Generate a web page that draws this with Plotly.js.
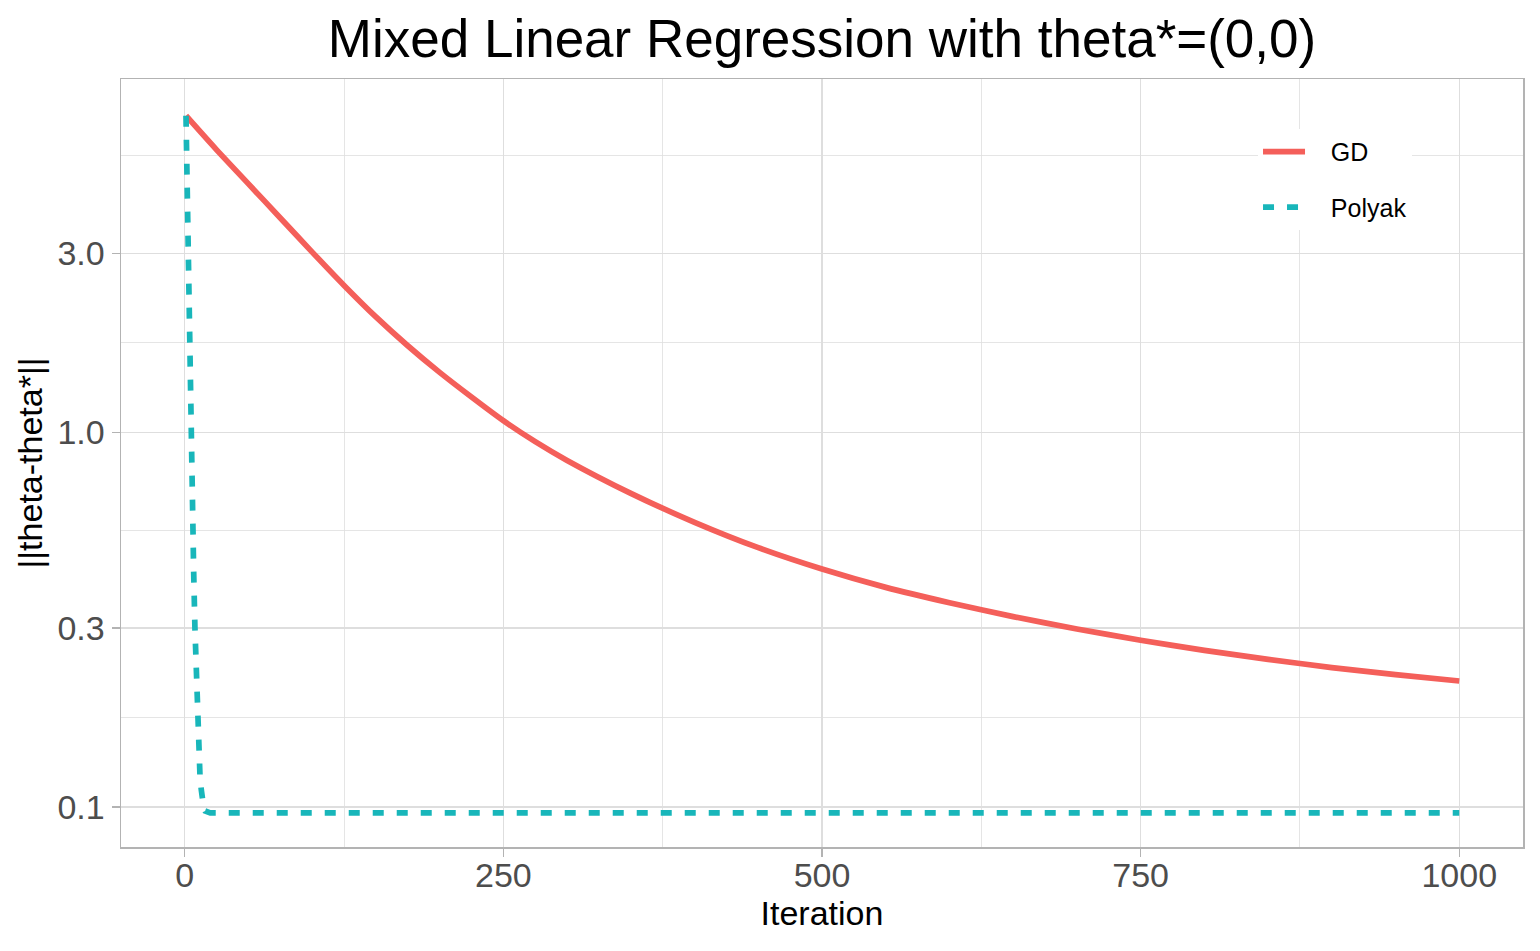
<!DOCTYPE html>
<html>
<head>
<meta charset="utf-8">
<script src="https://cdn.plot.ly/plotly-3.0.1.min.js"></script>
<style>
  html, body { margin: 0; padding: 0; background: #fff; }
  #plot { width: 1540px; height: 951px; }
</style>
</head>
<body>
<div id="plot"></div>
<script>
// values
const gdIter = [1, 25, 50, 75, 100, 125, 150, 175, 200, 225, 250, 275, 300, 350, 400, 450,
  500, 550, 600, 650, 700, 750, 800, 850, 900, 950, 1000]
const gdVals = [7.0, 5.675, 4.603, 3.733, 3.027, 2.466, 2.032, 1.702, 1.445, 1.242, 1.074,
  0.944, 0.841, 0.687, 0.575, 0.492, 0.4315, 0.3855, 0.3508, 0.3221, 0.2985, 0.2786,
  0.2618, 0.2477, 0.2355, 0.2254, 0.2168]

const polyakIter = [1, 2, 3, 4, 5, 6, 7, 8, 9, 10, 11, 12, 13, 14, 15, 16, 20, 100,
  250, 500, 750, 1000]
const polyakVals = [7.0, 4.0, 2.43, 1.43, 0.86, 0.607, 0.428, 0.301, 0.230, 0.181,
  0.145, 0.120, 0.111, 0.1035, 0.099, 0.0975, 0.0964, 0.0964, 0.0964, 0.0964,
  0.0964, 0.0964]

const xTicks = [0, 250, 500, 750, 1000]
const xMinor = [125, 375, 625, 875]
const yTicks = [0.1, 0.3, 1, 3]
const yTickText = ['0.1', '0.3', '1.0', '3.0']
const yMinor = [0.1732, 0.5477, 1.732, 5.477]

const fnt = 'Liberation Sans, Arial, Helvetica, sans-serif'
const grid = '#DEDEDE'
const pad = '\u00a0\u00a0\u00a0'

const data = [
  {
    x: gdIter, y: gdVals, name: pad + 'GD', legendgroup: 'a',
    mode: 'lines', type: 'scatter',
    line: { color: '#F45F5A', width: 5.7, shape: 'spline', smoothing: 0.6 },
  },
  {
    x: polyakIter, y: polyakVals, name: pad + 'Polyak', legendgroup: 'b',
    mode: 'lines', type: 'scatter',
    line: { color: '#18B6BA', width: 5.7, dash: '11px,13px' },
  },
]

const layout = {
  width: 1540, height: 951,
  margin: { l: 121, r: 17, t: 79, b: 104 },
  paper_bgcolor: '#fff', plot_bgcolor: '#fff',
  font: { family: fnt, color: '#000' },
  title: {
    text: 'Mixed Linear Regression with theta*=(0,0)',
    font: { size: 53, color: '#000' },
    xref: 'paper', x: 0.5, xanchor: 'center',
    yref: 'container', y: 1 - 38 / 951, yanchor: 'middle',
  },
  showlegend: true,
  legend: {
    x: 0.811, y: 0.935, xanchor: 'left', yanchor: 'top',
    bgcolor: '#fff', borderwidth: 0,
    font: { size: 25, color: '#000' },
    tracegroupgap: 20, itemwidth: 42,
  },
  xaxis: {
    range: [-50, 1050], autorange: false,
    tickmode: 'array', tickvals: xTicks,
    ticks: 'outside', ticklen: 8, tickwidth: 1.5, tickcolor: '#B3B3B3',
    tickfont: { size: 34, color: '#4D4D4D' },
    ticklabelstandoff: -10,
    showgrid: true, gridcolor: grid, gridwidth: 1.5,
    minor: { tickmode: 'array', tickvals: xMinor, showgrid: true, gridcolor: grid, gridwidth: 0.8, ticks: '' },
    zeroline: false,
    showline: true, linecolor: '#B3B3B3', linewidth: 1.5, mirror: true,
    title: { text: 'Iteration', font: { size: 34, color: '#000' }, standoff: 8 },
  },
  yaxis: {
    type: 'log', range: [-1.107, 0.943], autorange: false,
    tickmode: 'array', tickvals: yTicks, ticktext: yTickText,
    ticks: 'outside', ticklen: 8, tickwidth: 1.5, tickcolor: '#B3B3B3',
    tickfont: { size: 34, color: '#4D4D4D' },
    showgrid: true, gridcolor: grid, gridwidth: 1.5,
    minor: { tickmode: 'array', tickvals: yMinor, showgrid: true, gridcolor: grid, gridwidth: 0.8, ticks: '' },
    zeroline: false,
    showline: true, linecolor: '#B3B3B3', linewidth: 1.5, mirror: true,
    title: { text: '||theta-theta*||', font: { size: 34, color: '#000' }, standoff: 4 },
  },
}

Plotly.newPlot('plot', data, layout, { displayModeBar: false, staticPlot: true })
</script>
</body>
</html>
